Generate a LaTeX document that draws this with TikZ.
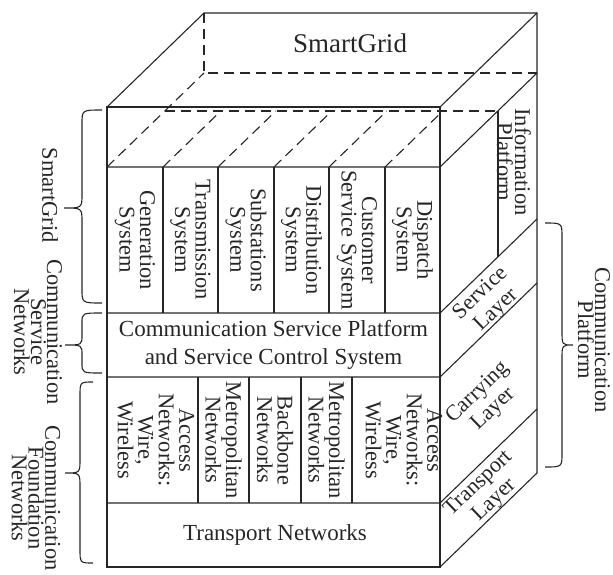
\documentclass[tikz,border=0pt]{standalone}
\usepackage{fontspec}
\setmainfont{Liberation Serif}
\usetikzlibrary{calc}
\definecolor{gridInk}{HTML}{262626}
% brace: end x, spine x, tip x, top y, tip y, bottom y, curl
\newcommand{\layerbrace}[7]{%
  \draw (#1,#4) .. controls (#2,#4) .. (#2,#4+#7) -- (#2,#5-#7)
        .. controls (#2,#5) .. (#3,#5) .. controls (#2,#5) .. (#2,#5+#7)
        -- (#2,#6-#7) .. controls (#2,#6) .. (#1,#6);}

\begin{document}
\begin{tikzpicture}[x=1pt,y=-1pt,line width=1.1pt,draw=gridInk,
    lbl/.style={text=gridInk,align=center,inner sep=0pt,
                font=\fontsize{23}{28}\selectfont},
    vlbl/.style={lbl,rotate=-90,font=\fontsize{22.5}{20.5}\selectfont},
    slbl/.style={lbl,rotate=43.8,font=\fontsize{22}{23}\selectfont},
    hidden/.style={dash pattern=on 10pt off 6pt}]
  \useasboundingbox (0,0) rectangle (613,574);

  % cube outline
  \draw (107,107) rectangle (440,567);
  \draw (107,107) -- (204,13) -- (537,13) -- (537,473) -- (440,567);
  \draw (440,107) -- (537,13);
  \foreach \y in {167,313,377,503}
    \draw (107,\y) -- (440,\y) -- ++(97,-94);
  \foreach \x in {163,218,274,329,385}
    \draw (\x,167) -- (\x,313);
  \foreach \x in {198,249,301,352}
    \draw (\x,377) -- (\x,503);
  \draw (498,111) -- (498,257);

  % hidden edges
  \draw[hidden] (204,13) -- (204,73) -- (537,73);
  \draw[hidden] (107,167) -- (204,73);
  \draw[hidden] (165,111) -- (498,111);
  \foreach \x in {163,218,274,329,385}
    \draw[hidden] (\x,167) -- ++(57.8,-56);

  % labels
  \node[lbl,font=\fontsize{27}{32}\selectfont] (sg) at (350,43) {SmartGrid};
  \node[vlbl] (gen)   at (135,240)   {Generation\\System};
  \node[vlbl] (trans) at (190.5,240) {Transmission\\System};
  \node[vlbl] (subst) at (246,240)   {Substations\\System};
  \node[vlbl] (distr) at (301.5,240) {Distribution\\System};
  \node[vlbl] (cust)  at (357,240)   {Customer\\Service System};
  \node[vlbl] (disp)  at (412.5,240) {Dispatch\\System};
  \node[lbl] (csp) at (273.5,345)
    {Communication Service Platform\\and Service Control System};
  \node[vlbl] (acc1)   at (156,440)   {Access\\Networks:\\Wire,\\Wireless};
  \node[vlbl] (metro1) at (223.5,440) {Metropolitan\\Networks};
  \node[vlbl] (bbone)  at (275,440)   {Backbone\\Networks};
  \node[vlbl] (metro2) at (326.5,440) {Metropolitan\\Networks};
  \node[vlbl] (acc2)   at (404,440)   {Access\\Networks:\\Wire,\\Wireless};
  \node[lbl] (tnet) at (275,535) {Transport Networks};

  \node[vlbl,font=\fontsize{22.5}{18}\selectfont] (info) at (514,162)
    {Information\\Platform};
  \node[slbl] (svc)   at (489,302) {Service\\Layer};
  \node[slbl] (carry) at (486,401) {Carrying\\Layer};
  \node[slbl] (trsp)  at (487,492) {Transport\\Layer};

  \node[vlbl] (sgl) at (50,195) {SmartGrid};
  \node[vlbl,font=\fontsize{22.5}{12.5}\selectfont] (csn) at (38,332)
    {Communication\\Service\\Networks};
  \node[vlbl,font=\fontsize{22.5}{14}\selectfont] (cfn) at (36,498)
    {Communication\\Foundation\\Networks};
  \node[vlbl,font=\fontsize{22.5}{17}\selectfont] (cpf) at (594,340)
    {Communication\\Platform};

  % braces
  \layerbrace{102}{82}{64}{110}{208}{303}{14}
  \layerbrace{102}{82}{65}{313}{345}{373}{10}
  \layerbrace{93}{80}{65}{382}{473}{563}{14}
  \layerbrace{545}{562}{573}{223}{345}{467}{14}
\end{tikzpicture}
\end{document}
